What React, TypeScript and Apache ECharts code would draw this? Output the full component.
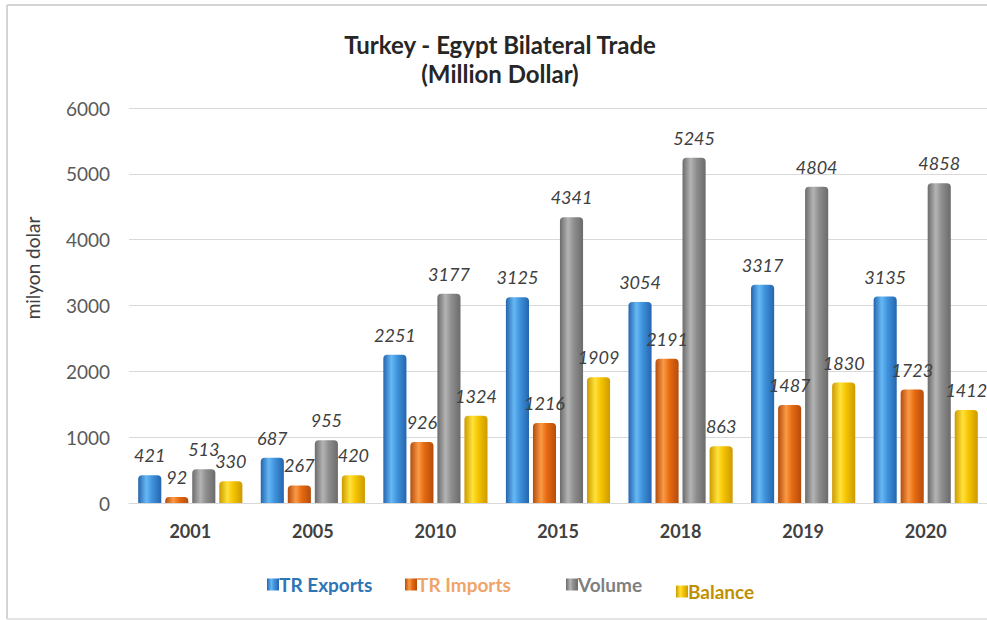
import React, { useEffect, useRef } from "react";
import * as echarts from "echarts";

const years = ["2001", "2005", "2010", "2015", "2018", "2019", "2020"];
const trExports = [421, 687, 2251, 3125, 3054, 3317, 3135];
const trImports = [92, 267, 926, 1216, 2191, 1487, 1723];
const volume = [513, 955, 3177, 4341, 5245, 4804, 4858];
const balance = [330, 420, 1324, 1909, 863, 1830, 1412];
const yTicks = { min: 0, max: 6000, interval: 1000 };

const FONT = "Lato, 'Open Sans', sans-serif";

function grad(edge: string, mid: string, hi: string) {
  return new echarts.graphic.LinearGradient(0, 0, 1, 0, [
    { offset: 0, color: edge },
    { offset: 0.35, color: hi },
    { offset: 0.6, color: mid },
    { offset: 1, color: edge },
  ]);
}

export default function App() {
  const ref = useRef<HTMLDivElement>(null);
  useEffect(() => {
    if (!ref.current) return;
    const chart = echarts.init(ref.current, undefined, { renderer: "svg" });
    const label = {
      show: true,
      position: "top",
      distance: 11,
      fontFamily: FONT,
      fontStyle: "italic",
      fontSize: 18,
      color: "#404040",
    };
    const mk = (name: string, data: number[], color: any) => ({
      name,
      type: "bar",
      data,
      barGap: "17%",
      barCategoryGap: "15%",
      itemStyle: { color, borderRadius: [4, 4, 0, 0] },
      label,
    });
    const legendBase = {
      top: 570,
      itemWidth: 12,
      itemHeight: 12,
      icon: "rect",
      textStyle: { fontFamily: FONT, fontSize: 19, fontWeight: "bold", padding: [0, 0, 0, -5] },
    };
    chart.setOption({
      animation: false,
      backgroundColor: "#ffffff",
      title: {
        text: "Turkey - Egypt Bilateral Trade\n(Million Dollar)",
        left: 495,
        textAlign: "center",
        top: 25,
        padding: 5,
        textStyle: {
          fontFamily: FONT,
          fontSize: 24,
          fontWeight: "bold",
          color: "#262626",
          lineHeight: 29,
        },
      },
      legend: [
        { ...legendBase, left: 262, data: ["TR Exports"], textStyle: { ...legendBase.textStyle, color: "#2E75B6" } },
        { ...legendBase, left: 400, data: ["TR Imports"], textStyle: { ...legendBase.textStyle, color: "#EFA56A" } },
        { ...legendBase, left: 561, data: ["Volume"], textStyle: { ...legendBase.textStyle, color: "#7F7F7F" } },
        { ...legendBase, left: 671, top: 577, data: ["Balance"], textStyle: { ...legendBase.textStyle, color: "#BF9000" } },
      ],
      grid: { left: 129, width: 862, top: 108, bottom: 117, containLabel: false },
      xAxis: {
        type: "category",
        data: years,
        axisLine: { lineStyle: { color: "#d9d9d9" } },
        axisTick: { show: false },
        axisLabel: { fontFamily: FONT, fontSize: 18, fontWeight: "bold", color: "#404040", margin: 19 },
      },
      yAxis: {
        type: "value",
        ...yTicks,
        axisLine: { show: false },
        axisTick: { show: false },
        splitLine: { lineStyle: { color: "#d9d9d9" } },
        axisLabel: {
          fontFamily: FONT,
          fontSize: 19,
          color: "#595959",
          margin: 19,
          formatter: (v: number) => String(v),
        },
      },
      graphic: [
        {
          type: "text",
          x: 32,
          y: 268,
          rotation: Math.PI / 2,
          style: {
            text: "milyon dolar",
            fontFamily: FONT,
            fontSize: 19,
            fill: "#404040",
            align: "center",
            verticalAlign: "middle",
          },
        },
        { type: "line", shape: { x1: 7, y1: 5, x2: 987, y2: 5 }, style: { stroke: "#d4d4d4", lineWidth: 2 } },
        { type: "line", shape: { x1: 7, y1: 5, x2: 7, y2: 619 }, style: { stroke: "#d4d4d4", lineWidth: 2 } },
        { type: "line", shape: { x1: 7, y1: 619, x2: 987, y2: 619 }, style: { stroke: "#e4e4e4", lineWidth: 2 } },
      ],
      series: [
        mk("TR Exports", trExports, grad("#2465AE", "#3F93DC", "#66B8F4")),
        mk("TR Imports", trImports, grad("#B54C0C", "#E66A10", "#FB9A45")),
        mk("Volume", volume, grad("#6B6B6B", "#8E8E8E", "#B4B4B4")),
        mk("Balance", balance, grad("#CC9A00", "#F5C400", "#FFE23A")),
      ],
    });
    return () => chart.dispose();
  }, []);
  return (
    <div
      ref={ref}
      style={{ position: "absolute", left: 0, top: 0, width: 987, height: 620 }}
    />
  );
}
